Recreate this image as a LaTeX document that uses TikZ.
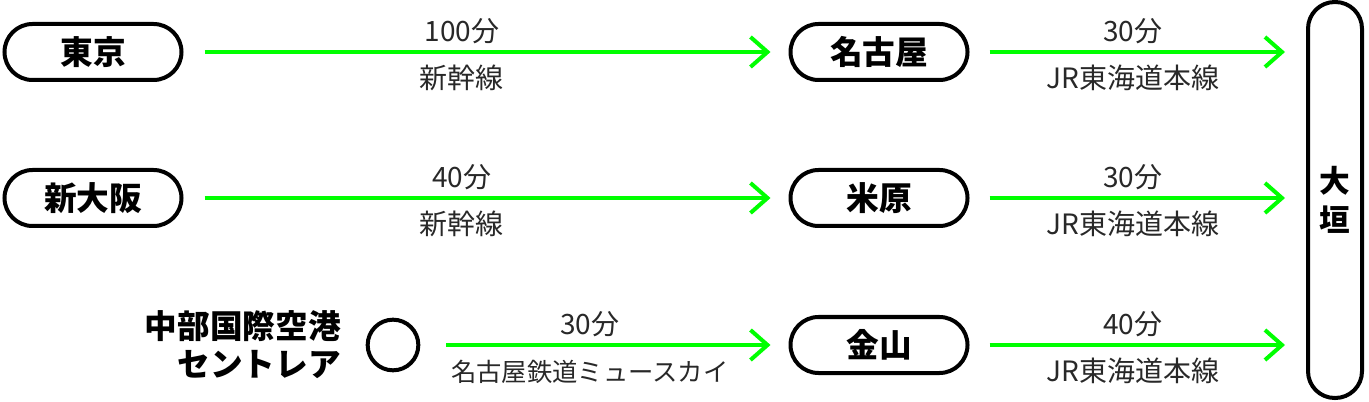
\documentclass[tikz,border=0pt]{standalone}
\usepackage{fontspec}
\setmainfont{Noto Sans CJK JP}
\usetikzlibrary{arrows.meta,positioning}
\definecolor{linegreen}{RGB}{0,255,0}
\definecolor{lbltext}{RGB}{40,40,40}
\tikzset{
  stn/.style={draw,rectangle,line width=3pt,rounded corners=21pt,minimum width=132.75pt,minimum height=42pt,font=\fontsize{24.5}{26}\selectfont\bfseries,inner sep=0pt},
  endstn/.style={draw,rectangle,line width=3pt,rounded corners=20pt,minimum width=40.5pt,minimum height=297pt,inner sep=0pt,align=center,font=\fontsize{23}{29}\selectfont\bfseries},
  apt/.style={draw,circle,line width=3pt,minimum size=38pt,inner sep=0pt},
  aptname/.style={align=right,font=\fontsize{24.5}{28.5}\selectfont\bfseries,inner sep=0pt},
  arr/.style={-{Straight Barb[length=12.75pt,width=22.5pt]},linegreen,line width=3pt},
  tlbl/.style={font=\fontsize{21}{23}\selectfont,text=lbltext,above=4.5pt,inner sep=0pt},
  blbl/.style={font=\fontsize{21}{23}\selectfont,text=lbltext,below=8.5pt,inner sep=0pt},
  slbl/.style={blbl,font=\fontsize{19}{21}\selectfont,below=9.5pt}
}
\begin{document}
\begin{tikzpicture}[x=0.75pt,y=-0.75pt]
  \useasboundingbox (0,0) rectangle (1369,402);
  % stations
  \node[stn] (tokyo) at (93,52) {東京};
  \node[stn] (osaka) at (93,198) {新大阪};
  \node[stn] (nagoya) at (879,52) {名古屋};
  \node[stn] (maibara) at (879,198) {米原};
  \node[stn] (kanayama) at (879,345) {金山};
  \node[endstn] (ogaki) at (1335,200) {大\\垣};
  \node[apt] (centrair) at (393,345) {};
  \node[aptname,anchor=east] (aptlbl) at (341,345) {中部国際空港\\セントレア};

  % lines
  \draw[arr,shorten <=15.75pt,shorten >=13.5pt] (tokyo.east) -- (nagoya.west)
    node[tlbl,pos=0.46] (t1) {100分} node[blbl,pos=0.46] (b1) {新幹線};
  \draw[arr,shorten <=15.75pt,shorten >=13.5pt] (osaka.east) -- (maibara.west)
    node[tlbl,pos=0.46] (t2) {40分} node[blbl,pos=0.46] (b2) {新幹線};
  \draw[arr,shorten <=19.5pt,shorten >=13.5pt] (centrair.east) -- (kanayama.west)
    node[tlbl,pos=0.46] (t3) {30分} node[slbl,pos=0.46] (b3) {名古屋鉄道ミュースカイ};
  \foreach \s/\t in {nagoya/30分, maibara/30分, kanayama/40分}
    \draw[arr,shorten <=15pt,shorten >=15.75pt] (\s.east) -- (\s.east -| ogaki.west)
      node[tlbl,pos=0.485] {\t} node[blbl,pos=0.485] {JR東海道本線};
\end{tikzpicture}
\end{document}
